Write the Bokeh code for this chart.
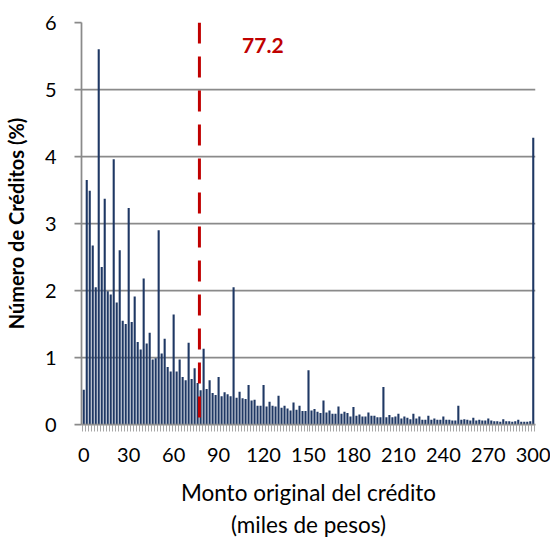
from bokeh.plotting import figure
from bokeh.models import FixedTicker, Span, Label, Range1d
from bokeh.embed import file_html
from bokeh.resources import INLINE

# Loan amount categories (thousand pesos), every 2
amounts = list(range(0, 301, 2))
# Share of credits (%)
shares = [
    0.52, 3.65, 3.49, 2.67, 2.05, 5.60, 2.35, 3.37, 1.99, 1.94,
    3.96, 1.82, 2.60, 1.55, 1.50, 3.23, 1.53, 1.91, 1.23, 1.12,
    2.18, 1.21, 1.37, 0.97, 0.99, 2.90, 1.06, 1.28, 0.86, 0.79,
    1.64, 0.79, 0.97, 0.71, 0.66, 1.22, 0.68, 0.84, 0.62, 0.51,
    1.13, 0.53, 0.66, 0.47, 0.44, 0.71, 0.42, 0.48, 0.45, 0.42,
    2.05, 0.40, 0.49, 0.39, 0.38, 0.59, 0.36, 0.37, 0.28, 0.28,
    0.59, 0.27, 0.34, 0.28, 0.27, 0.43, 0.25, 0.28, 0.24, 0.21,
    0.33, 0.22, 0.28, 0.20, 0.20, 0.81, 0.21, 0.23, 0.19, 0.17,
    0.36, 0.18, 0.21, 0.16, 0.16, 0.27, 0.16, 0.19, 0.17, 0.12,
    0.26, 0.13, 0.15, 0.12, 0.12, 0.18, 0.13, 0.13, 0.11, 0.11,
    0.56, 0.11, 0.14, 0.11, 0.12, 0.16, 0.09, 0.12, 0.10, 0.08,
    0.16, 0.09, 0.12, 0.07, 0.07, 0.13, 0.07, 0.09, 0.07, 0.07,
    0.12, 0.07, 0.07, 0.06, 0.06, 0.28, 0.07, 0.08, 0.07, 0.06,
    0.10, 0.06, 0.07, 0.06, 0.06, 0.09, 0.06, 0.05, 0.05, 0.04,
    0.08, 0.05, 0.05, 0.04, 0.05, 0.07, 0.04, 0.04, 0.04, 0.05,
    4.28,
]
x_ticks = [0, 30, 60, 90, 120, 150, 180, 210, 240, 270, 300]
y_ticks = [0, 1, 2, 3, 4, 5, 6]
mean_amount = 77.2
mean_label = "77.2"
x_title = "Monto original del crédito\n(miles de pesos)"
y_title = "Número de Créditos (%)"

GRAY = "#8a8a8a"
FONT = "Lato"

p = figure(
    output_backend="svg", toolbar_location=None,
    frame_width=454, frame_height=402,
    min_border_left=81, min_border_right=15, min_border_top=22, min_border_bottom=115,
    x_range=Range1d(-1.5, 301.5), y_range=Range1d(0, 6),
)
p.outline_line_color = None
p.background_fill_color = "white"

p.vbar(x=amounts, top=shares, width=1.4, fill_color="#1f3864", line_color=None)

p.add_layout(Span(location=mean_amount, dimension="height", line_color="#c00000",
                  line_width=3, line_dash="21 13"))
p.add_layout(Label(x=119.5, y=5.65, text=mean_label, text_color="#c00000",
                   text_font=FONT, text_font_style="bold", text_font_size="21px",
                   text_align="center", text_baseline="middle"))

# x axis
xa = p.xaxis[0]
xa.ticker = FixedTicker(ticks=x_ticks, minor_ticks=[v - 1 for v in amounts] + [301])
xa.axis_line_color = GRAY
xa.axis_line_width = 1.75
xa.major_tick_line_color = None
xa.major_tick_out = 0
xa.major_tick_in = 0
xa.minor_tick_line_color = "#a6a6a6"
xa.minor_tick_out = 7
xa.minor_tick_in = 0
xa.major_label_standoff = 16
xa.major_label_text_font = FONT
xa.major_label_text_font_size = "20px"
xa.major_label_text_color = "black"
xa.axis_label = x_title
xa.axis_label_text_font = FONT
xa.axis_label_text_font_style = "normal"
xa.axis_label_text_font_size = "22.5px"
xa.axis_label_text_color = "black"
xa.axis_label_text_line_height = 1.2
xa.axis_label_standoff = 14

# y axis
ya = p.yaxis[0]
ya.ticker = FixedTicker(ticks=y_ticks)
ya.axis_line_color = GRAY
ya.axis_line_width = 1.75
ya.major_tick_line_color = GRAY
ya.major_tick_line_width = 1.75
ya.major_tick_out = 7
ya.major_tick_in = 0
ya.minor_tick_line_color = None
ya.major_label_standoff = 18
ya.major_label_text_font = FONT
ya.major_label_text_font_size = "20px"
ya.major_label_text_color = "black"
ya.axis_label = y_title
ya.axis_label_text_font = FONT
ya.axis_label_text_font_style = "bold"
ya.axis_label_text_font_size = "20px"
ya.axis_label_text_color = "black"
ya.axis_label_standoff = 14

p.xgrid.grid_line_color = None
p.ygrid.grid_line_color = GRAY
p.ygrid.grid_line_width = 1.75

open("out.html", "w").write(file_html(p, INLINE))
